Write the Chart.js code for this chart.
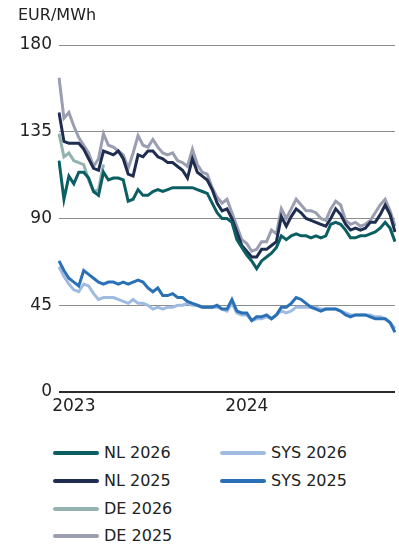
<!DOCTYPE html>
<html>
<head>
<meta charset="utf-8">
<script src="https://cdn.jsdelivr.net/npm/chart.js@4.4.1/dist/chart.umd.min.js"></script>
<style>
  body { margin: 0; background: #fff; font-family: "DejaVu Sans", sans-serif; color: #222; }
  #wrap { position: relative; width: 399px; height: 545px; overflow: hidden; }
  #box { position: absolute; left: 0; top: 0; width: 399px; height: 420px; }
  #unit { position: absolute; left: 18px; top: 5px; font-size: 16px; line-height: 20px; }
  .item { position: absolute; display: flex; align-items: center; height: 20px; font-size: 16px; line-height: 20px; }
  .swatch { width: 46px; height: 4px; border-radius: 2px; margin-right: 5px; }
</style>
</head>
<body>
<div id="wrap">
  <div id="box"><canvas id="myChart"></canvas></div>
  <div id="unit">EUR/MWh</div>
  <div id="legend"></div>
</div>
<script>
// roughly every 10 days, Dec 2022 -> Nov 2024
const labels = [];
for (let i = 0; i < 69; i++) {
  const d = new Date(Date.UTC(2022, 11, 1) + i * 10.43 * 86400000);
  labels.push(d.toISOString().slice(0, 10));
}

const yTicks = [0, 45, 90, 135, 180];

const nl2026 = [120, 100, 112, 108, 114, 114, 111, 104, 102, 114, 110, 111, 111, 110, 99, 100, 105, 102, 102, 104,
  105, 104, 105, 106, 106, 106, 106, 106, 105, 104, 103, 98, 93, 90, 90, 88, 79, 75, 71, 68,
  64, 68, 70, 72, 75, 81, 79, 81, 82, 81, 81, 80, 81, 80, 81, 87, 88, 87, 84, 80,
  80, 81, 81, 82, 83, 85, 88, 85, 78];
const nl2025 = [145, 130, 129, 129, 129, 126, 121, 116, 115, 125, 124, 123, 125, 121, 113, 112, 123, 122, 125, 125,
  122, 121, 119, 119, 117, 115, 111, 121, 114, 112, 110, 105, 98, 94, 95, 90, 83, 76, 73, 70,
  70, 74, 74, 76, 78, 91, 86, 91, 95, 93, 90, 89, 88, 87, 86, 90, 95, 92, 87, 84,
  85, 84, 85, 88, 88, 92, 97, 92, 83];
const de2026 = [134, 122, 124, 120, 119, 118, 110, 104, 105, 118];
const de2025 = [163, 142, 145, 138, 132, 128, 124, 117, 121, 134, 128, 127, 125, 123, 116, 124, 133, 128, 127, 131,
  127, 124, 123, 124, 120, 119, 117, 126, 118, 114, 113, 106, 101, 98, 100, 93, 86, 79, 77, 73,
  74, 78, 78, 84, 82, 95, 90, 95, 100, 97, 94, 94, 93, 90, 89, 95, 99, 97, 89, 87,
  88, 86, 87, 89, 93, 97, 100, 94, 86];
const sys2026 = [65, 60, 56, 53, 52, 56, 55, 51, 48, 49, 49, 49, 48, 47, 46, 48, 46, 46, 45, 43,
  44, 43, 44, 44, 45, 45, 46, 45, 45, 44, 44, 44, 44, 43, 42, 46, 41, 40, 40, 37,
  38, 38, 39, 38, 40, 42, 41, 42, 44, 44, 44, 44, 44, 43, 43, 43, 43, 42, 41, 40,
  40, 40, 40, 40, 39, 39, 38, 36, 33];
const sys2025 = [68, 63, 59, 57, 55, 63, 61, 59, 57, 56, 57, 57, 56, 57, 56, 57, 58, 57, 54, 52,
  54, 50, 50, 51, 49, 49, 47, 46, 45, 44, 44, 44, 45, 43, 43, 48, 42, 41, 41, 37,
  39, 39, 40, 38, 40, 44, 44, 46, 49, 48, 46, 44, 43, 42, 43, 43, 43, 42, 40, 39,
  40, 40, 40, 39, 38, 38, 38, 36, 31];

const series = [
  { label: "NL 2026", data: nl2026, color: "#0b5f63", order: 2 },
  { label: "NL 2025", data: nl2025, color: "#1f2e50", order: 4 },
  { label: "DE 2026", data: de2026, color: "#93b2b0", order: 3 },
  { label: "DE 2025", data: de2025, color: "#9a9eb0", order: 5 },
  { label: "SYS 2026", data: sys2026, color: "#9fbbe0", order: 1 },
  { label: "SYS 2025", data: sys2025, color: "#2a70b6", order: 0 },
];

const data = {
  labels: labels,
  datasets: series.map((s) => ({
    label: s.label,
    data: s.data,
    borderColor: s.color,
    backgroundColor: s.color,
    borderWidth: 3,
    pointRadius: 0,
    tension: 0,
    fill: false,
    order: s.order,
  })),
};

const tickFont = { family: "DejaVu Sans", size: 17 };

const config = {
  type: "line",
  data: data,
  options: {
    responsive: true,
    maintainAspectRatio: false,
    animation: false,
    layout: { padding: { top: 45, left: 0, right: 0, bottom: 0 } },
    plugins: {
      legend: { display: false },
      tooltip: { enabled: false },
    },
    scales: {
      x: {
        type: "category",
        grid: { display: false, drawTicks: false },
        border: { display: false },
        afterFit: (scale) => { scale.height = 28; },
        ticks: {
          autoSkip: false,
          maxRotation: 0,
          padding: 4,
          color: "#222",
          font: tickFont,
          callback: function (value, index) {
            if (index === 0) return "";
            const y = labels[index].slice(0, 4);
            return y !== labels[index - 1].slice(0, 4) ? y : "";
          },
        },
      },
      y: {
        min: 0,
        max: 180,
        afterFit: (scale) => { scale.width = 59; },
        afterBuildTicks: (scale) => { scale.ticks = yTicks.map((v) => ({ value: v })); },
        grid: {
          drawTicks: false,
          color: (ctx) => (ctx.tick && ctx.tick.value === 0 ? "#2a2a2a" : "#8c8c8c"),
          lineWidth: (ctx) => (ctx.tick && ctx.tick.value === 0 ? 2 : 1),
        },
        border: { display: false },
        ticks: { padding: 7, color: "#222", font: tickFont },
      },
    },
  },
};

const context = document.getElementById("myChart").getContext("2d");
const chart = new Chart(context, config);

// legend, two columns
const legendPos = [
  ["NL 2026", 53, 453], ["NL 2025", 53, 481], ["DE 2026", 53, 509], ["DE 2025", 53, 536],
  ["SYS 2026", 220, 453], ["SYS 2025", 220, 481],
];
const legend = document.getElementById("legend");
legendPos.forEach(([name, x, y]) => {
  const s = series.find((d) => d.label === name);
  const el = document.createElement("div");
  el.className = "item";
  el.style.left = x + "px";
  el.style.top = (y - 10) + "px";
  el.innerHTML = `<span class="swatch" style="background:${s.color}"></span><span>${name}</span>`;
  legend.appendChild(el);
});
</script>
</body>
</html>
